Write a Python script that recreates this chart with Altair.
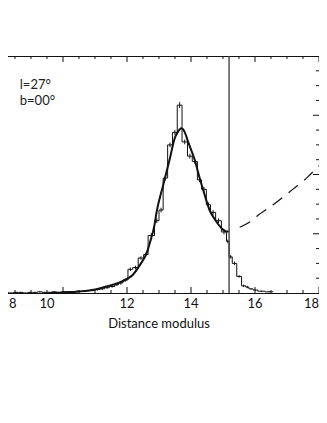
import altair as alt
import pandas as pd

# ---------------- data ----------------
# histogram bin edges (distance modulus) and heights (arbitrary units)
hist_edges = [8.00, 8.15, 8.30, 8.45, 8.60, 8.75, 8.90, 9.05, 9.20, 9.35,
              9.50, 9.65, 9.80, 9.95, 10.10, 10.25, 10.40, 10.55, 10.70, 10.85,
              11.00, 11.15, 11.30, 11.45, 11.62, 11.74, 11.87, 12.03, 12.18, 12.35,
              12.52, 12.66, 12.86, 13.00, 13.13, 13.27, 13.42, 13.57, 13.72, 13.89,
              14.04, 14.20, 14.33, 14.48, 14.61, 14.77, 14.95, 15.11, 15.19, 15.29,
              15.43, 15.58, 15.71, 15.81, 15.94, 16.09, 16.31, 16.57]
hist_values = [0.00, 0.01, 0.00, 0.01, 0.01, 0.00, 0.01, 0.01, 0.02, 0.01,
               0.01, 0.02, 0.01, 0.02, 0.02, 0.02, 0.03, 0.03, 0.04, 0.05,
               0.06, 0.07, 0.09, 0.11, 0.14, 0.17, 0.22, 0.40, 0.43, 0.59,
               0.65, 0.97, 1.22, 1.40, 1.94, 2.50, 2.71, 3.17, 2.55, 2.31,
               2.22, 1.91, 1.75, 1.49, 1.36, 1.22, 1.03, 0.87, 0.61, 0.50,
               0.28, 0.12, 0.10, 0.07, 0.05, 0.03, 0.02]
hist_errors = [0.01, 0.01, 0.01, 0.01, 0.01, 0.01, 0.01, 0.01, 0.01, 0.01,
               0.01, 0.01, 0.01, 0.01, 0.01, 0.01, 0.01, 0.01, 0.01, 0.02,
               0.02, 0.02, 0.02, 0.02, 0.02, 0.03, 0.03, 0.03, 0.03, 0.03,
               0.03, 0.04, 0.04, 0.04, 0.04, 0.04, 0.04, 0.05, 0.04, 0.04,
               0.04, 0.04, 0.04, 0.04, 0.04, 0.04, 0.04, 0.03, 0.03, 0.03,
               0.02, 0.02, 0.02, 0.01, 0.01, 0.01, 0.01]

# smooth model curve
curve_x = [9.49, 10.00, 10.50, 11.01, 11.35, 11.68, 11.98, 12.17, 12.40, 12.61,
           12.71, 12.86, 12.92, 13.13, 13.34, 13.49, 13.59, 13.70, 13.80, 13.91,
           14.12, 14.27, 14.43, 14.58, 14.75, 14.85, 15.00, 15.11, 15.19]
curve_y = [0.00, 0.01, 0.025, 0.06, 0.11, 0.16, 0.23, 0.30, 0.47, 0.67,
           0.84, 1.15, 1.35, 1.82, 2.27, 2.61, 2.72, 2.78, 2.72, 2.55,
           2.24, 1.94, 1.65, 1.40, 1.24, 1.16, 1.07, 1.04, 1.04]

# dashed curve beyond the cut
dash_x = [15.52, 15.81, 16.07, 16.62, 17.16, 17.65, 18.00]
dash_y = [1.11, 1.19, 1.30, 1.51, 1.74, 1.96, 2.15]

# vertical cut line
cut_x = [15.19]

# annotation
note_text = ["l=27°", "b=00°"]
note_x = [8.65, 8.65]
note_y = [3.44, 3.17]

# axis ticks and labels
x_major = [8, 10, 12, 14, 16, 18]
x_labels = ["8", "10", "12", "14", "16", "18"]
x_minor = [8.5, 9, 9.5, 10.5, 11, 11.5, 12.5, 13, 13.5, 14.5, 15, 15.5, 16.5, 17, 17.5]
y_major = [1, 2, 3]
y_minor = [0.25, 0.5, 0.75, 1.25, 1.5, 1.75, 2.25, 2.5, 2.75, 3.25, 3.5, 3.75]
x_title = "Distance modulus"

W, H = 320, 237
XDOM = [8, 18]
YDOM = [0, 4]
FONT = "Lato"
INK = "#111111"

xs = alt.Scale(domain=XDOM, nice=False, zero=False)
ys = alt.Scale(domain=YDOM, nice=False, zero=False)

# ---------------- tables ----------------
step_df = pd.DataFrame({
    "x": hist_edges[:-1] + [hist_edges[-1]],
    "y": hist_values + [hist_values[-1]],
})
err_df = pd.DataFrame({
    "left": hist_edges[:-1],
    "right": hist_edges[1:],
    "v": hist_values,
    "e": hist_errors,
})
curve_df = pd.DataFrame({"x": curve_x, "y": curve_y})
dash_df = pd.DataFrame({"x": dash_x, "y": dash_y})
cut_df = pd.DataFrame({"x": cut_x})
note_df = pd.DataFrame({"t": note_text, "x": note_x, "y": note_y})
lab_df = pd.DataFrame({"x": x_major, "t": x_labels})
title_df = pd.DataFrame({"t": [x_title]})

hist = alt.Chart(step_df).mark_line(interpolate="step-after", color=INK, strokeWidth=1).encode(
    x=alt.X("x:Q", scale=xs, axis=None),
    y=alt.Y("y:Q", scale=ys, axis=None),
)

errs = alt.Chart(err_df).transform_calculate(
    c="(datum.left + datum.right) / 2",
    lo="datum.v - datum.e",
    hi="datum.v + datum.e",
).mark_rule(color=INK, strokeWidth=1).encode(
    x=alt.X("c:Q", scale=xs, axis=None),
    y=alt.Y("lo:Q", scale=ys, axis=None),
    y2="hi:Q",
)

curve = alt.Chart(curve_df).mark_line(interpolate="monotone", color=INK, strokeWidth=2).encode(
    x=alt.X("x:Q", scale=xs, axis=None),
    y=alt.Y("y:Q", scale=ys, axis=None),
)

dashed = alt.Chart(dash_df).mark_line(interpolate="monotone", color=INK, strokeWidth=1.2,
                                      strokeDash=[12, 8]).encode(
    x=alt.X("x:Q", scale=xs, axis=None),
    y=alt.Y("y:Q", scale=ys, axis=None),
)

cut = alt.Chart(cut_df).mark_rule(color="#444444", strokeWidth=1.4).encode(
    x=alt.X("x:Q", scale=xs, axis=None),
)

notes = alt.Chart(note_df).mark_text(align="left", baseline="alphabetic", fontSize=13,
                                     font=FONT, color="#222222").encode(
    x=alt.X("x:Q", scale=xs, axis=None),
    y=alt.Y("y:Q", scale=ys, axis=None),
    text="t:N",
)


def label_layer(test, align, dx):
    return alt.Chart(lab_df).transform_filter(test).mark_text(
        align=align, baseline="top", fontSize=13, font=FONT, color=INK, dx=dx,
    ).encode(
        x=alt.X("x:Q", scale=xs, axis=None),
        y=alt.value(H + 5),
        text="t:N",
    )


labels_mid = label_layer("datum.x >= 12 && datum.x <= 16", "center", 0)
label_10 = label_layer("datum.x == 10", "center", -16)
label_first = label_layer("datum.x == 8", "left", 10)
label_last = label_layer("datum.x == 18", "right", 0)

xtitle = alt.Chart(title_df).mark_text(align="center", baseline="top", fontSize=13,
                                       font=FONT, color=INK).encode(
    x=alt.value(W / 2),
    y=alt.value(H + 25),
    text="t:N",
)


def xticks(vals, length, side):
    df = pd.DataFrame({"x": vals})
    if side == "bottom":
        yy, yy2 = H, H - length
    else:
        yy, yy2 = 0, length
    return alt.Chart(df).mark_rule(color=INK, strokeWidth=1).encode(
        x=alt.X("x:Q", scale=xs, axis=None),
        y=alt.value(yy), y2=alt.value(yy2),
    )


def yticks(vals, length, side):
    df = pd.DataFrame({"y": vals})
    if side == "left":
        xx, xx2 = 0, length
    else:
        xx, xx2 = W, W - length
    return alt.Chart(df).mark_rule(color=INK, strokeWidth=1).encode(
        y=alt.Y("y:Q", scale=ys, axis=None),
        x=alt.value(xx), x2=alt.value(xx2),
    )


ticks = [
    xticks(x_major, 6, "bottom"), xticks(x_minor, 3, "bottom"),
    xticks(x_major, 6, "top"), xticks(x_minor, 3, "top"),
    yticks(y_major, 6, "left"), yticks(y_minor, 3, "left"),
    yticks(y_major, 6, "right"), yticks(y_minor, 3, "right"),
]

chart = alt.layer(
    hist, errs, curve, dashed, cut, notes,
    labels_mid, label_10, label_first, label_last, xtitle, *ticks,
).properties(
    width=W, height=H,
    autosize=alt.AutoSizeParams(type="none"),
    padding={"left": -9, "top": 48, "right": 0, "bottom": 60},
).configure(
    font=FONT, background="white",
).configure_view(
    stroke=INK, strokeWidth=1, clip=False,
)

chart.save("out.html", embed_options={"renderer": "svg", "actions": False})
